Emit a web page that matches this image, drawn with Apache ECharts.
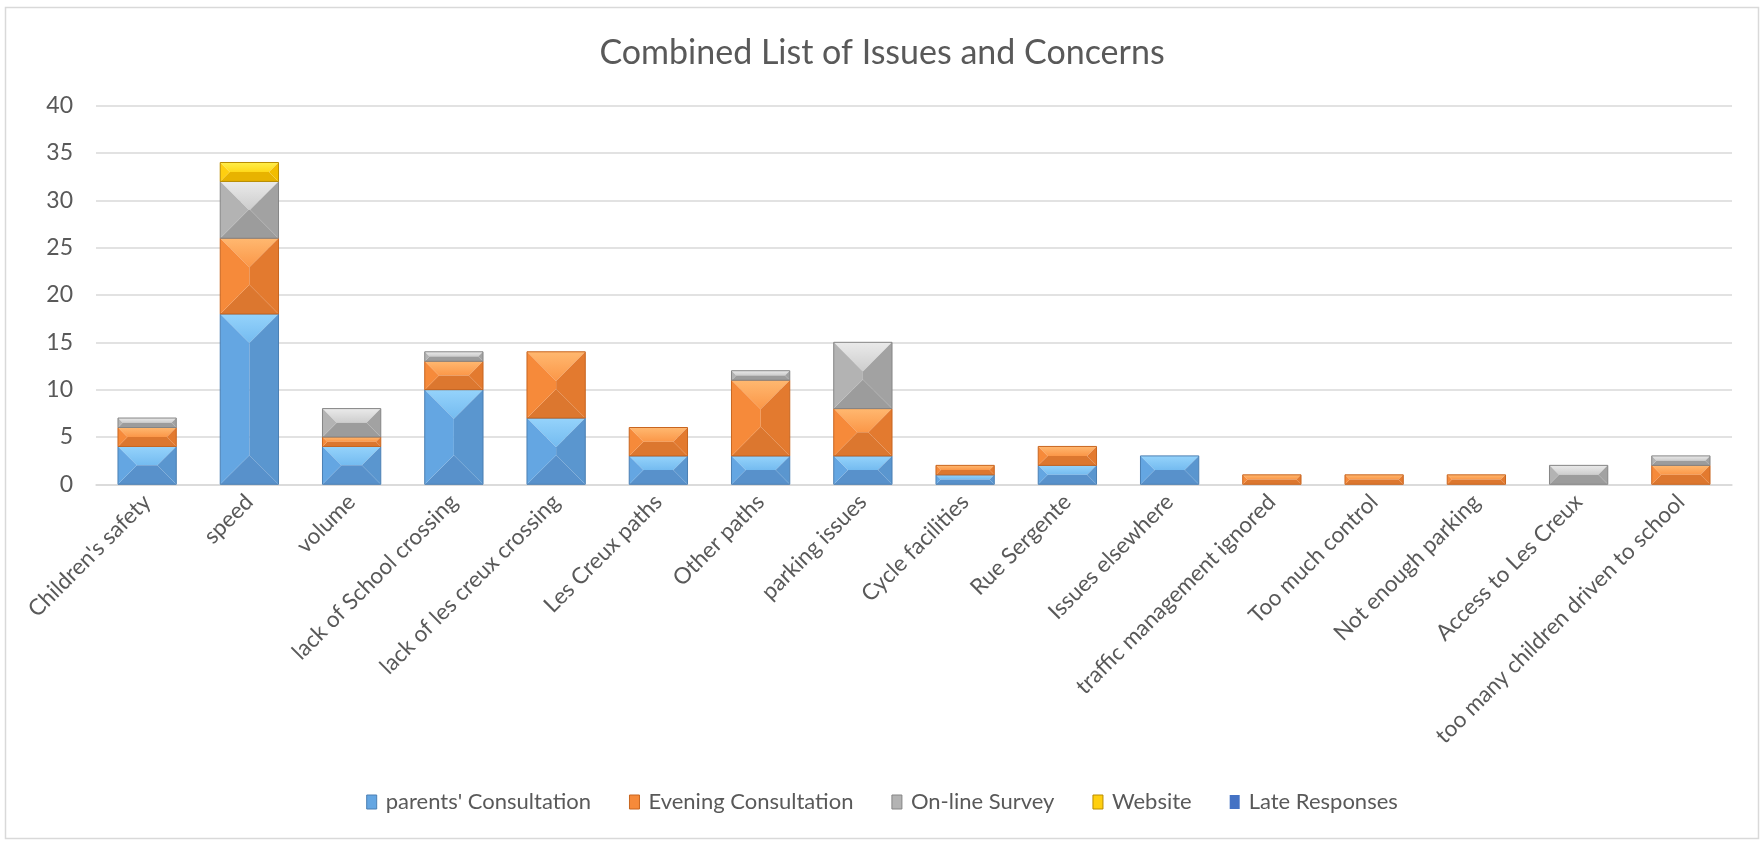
<!DOCTYPE html>
<html>
<head>
<meta charset="utf-8">
<title>Combined List of Issues and Concerns</title>
<script src="https://cdn.jsdelivr.net/npm/echarts@6/dist/echarts.min.js"></script>
<style>
  html, body { margin: 0; padding: 0; background: #ffffff; }
  #chart { width: 1764px; height: 841px; }
</style>
</head>
<body>
<div id="chart"></div>
<script>
// Issue categories along the x axis
const categories = [
  "Children's safety", "speed", "volume", "lack of School crossing",
  "lack of les creux crossing", "Les Creux paths", "Other paths", "parking issues",
  "Cycle facilities", "Rue Sergente", "Issues elsewhere", "traffic management ignored",
  "Too much control", "Not enough parking", "Access to Les Creux",
  "too many children driven to school"
];

// Responses per source (stacked bottom to top)
const parentsConsultation = [4, 18, 4, 10, 7, 3, 3, 3, 1, 2, 3, 0, 0, 0, 0, 0];
const eveningConsultation = [2, 8, 1, 3, 7, 3, 8, 5, 1, 2, 0, 1, 1, 1, 0, 2];
const onlineSurvey        = [1, 6, 3, 1, 0, 0, 1, 7, 0, 0, 0, 0, 0, 0, 2, 1];
const website             = [0, 2, 0, 0, 0, 0, 0, 0, 0, 0, 0, 0, 0, 0, 0, 0];
const lateResponses       = [0, 0, 0, 0, 0, 0, 0, 0, 0, 0, 0, 0, 0, 0, 0, 0];

const seriesNames = ["parents' Consultation", "Evening Consultation", "On-line Survey", "Website", "Late Responses"];
const seriesValues = [parentsConsultation, eveningConsultation, onlineSurvey, website, lateResponses];

// Value axis ticks
const yMin = 0, yMax = 40, yStep = 5;

// Bevel shading per source: top facet gradient, left, right, bottom, outline
const shades = [
  { base: '#5B9BD5', top0: '#95D3FB', top1: '#74BBF0', left: '#64A6E2', right: '#5A96CF', bottom: '#5891CB', edge: '#4A7FB3' },
  { base: '#ED7D31', top0: '#FFB870', top1: '#FB9748', left: '#F68A3A', right: '#E37A2F', bottom: '#DC772F', edge: '#C8651F' },
  { base: '#A5A5A5', top0: '#EAEAEA', top1: '#CDCDCD', left: '#B3B3B3', right: '#A2A2A2', bottom: '#9C9C9C', edge: '#858585' },
  { base: '#FFC000', top0: '#FFEE4A', top1: '#FFD91A', left: '#FFCF10', right: '#F2BD00', bottom: '#E8B300', edge: '#B98C00' },
  { base: '#4472C4', top0: '#4472C4', top1: '#4472C4', left: '#4472C4', right: '#4472C4', bottom: '#4472C4', edge: '#4472C4' }
];

const barRatio = 0.57;

// Build stacked [category, start, end] items for each source
function stackedItems(sIdx) {
  const items = [];
  for (let i = 0; i < categories.length; i++) {
    const v = seriesValues[sIdx][i];
    if (!v) continue;
    let base = 0;
    for (let k = 0; k < sIdx; k++) base += seriesValues[k][i];
    items.push([i, base, base + v]);
  }
  return items;
}

function makeRenderer(sIdx) {
  const c = shades[sIdx];
  return function (params, api) {
    const i = api.value(0);
    const p0 = api.coord([i, api.value(1)]);
    const p1 = api.coord([i, api.value(2)]);
    const bw = api.size([1, 0])[0] * barRatio;
    const x = p0[0] - bw / 2;
    const top = p1[1];
    const bottom = p0[1];
    const h = bottom - top;
    const d = Math.min(bw, h) / 2;
    const poly = (pts, fill) => ({ type: 'polygon', shape: { points: pts }, style: { fill: fill, stroke: null } });
    return {
      type: 'group',
      children: [
        poly([[x, top], [x + bw, top], [x + bw - d, top + d], [x + d, top + d]],
          new echarts.graphic.LinearGradient(0, 0, 0, 1, [{ offset: 0, color: c.top0 }, { offset: 1, color: c.top1 }])),
        poly([[x, bottom], [x + bw, bottom], [x + bw - d, bottom - d], [x + d, bottom - d]], c.bottom),
        poly([[x, top], [x + d, top + d], [x + d, bottom - d], [x, bottom]], c.left),
        poly([[x + bw, top], [x + bw - d, top + d], [x + bw - d, bottom - d], [x + bw, bottom]], c.right),
        { type: 'rect', shape: { x: x, y: top, width: bw, height: h },
          style: { fill: null, stroke: c.edge, lineWidth: 1 } }
      ]
    };
  };
}

const labelColor = '#595959';
const fontFamily = 'Lato, "Open Sans", sans-serif';

const chart = echarts.init(document.getElementById('chart'), null, { renderer: 'canvas' });

chart.setOption({
  backgroundColor: '#ffffff',
  animation: false,
  title: {
    text: 'Combined List of Issues and Concerns',
    left: 'center',
    top: 31,
    textStyle: { color: labelColor, fontSize: 34, fontWeight: 'normal', fontFamily: fontFamily }
  },
  graphic: [{
    type: 'rect',
    shape: { x: 5.5, y: 7.5, width: 1753, height: 831 },
    style: { fill: null, stroke: '#D9D9D9', lineWidth: 1.5 },
    silent: true
  }],
  legend: {
    bottom: 23,
    left: 'center',
    itemWidth: 10,
    itemHeight: 14,
    itemGap: 38,
    icon: 'rect',
    textStyle: { color: labelColor, fontSize: 22, fontFamily: fontFamily, padding: [0, 0, 0, 4] },
    data: seriesNames.map((n, k) => ({
      name: n,
      itemStyle: { color: shades[k].left, borderColor: shades[k].edge, borderWidth: k === 4 ? 0 : 1 }
    }))
  },
  grid: { left: 96, right: 32, top: 105.7, bottom: 356.7, containLabel: false },
  xAxis: {
    type: 'category',
    data: categories,
    boundaryGap: true,
    axisLine: { lineStyle: { color: '#D9D9D9', width: 1.5 } },
    axisTick: { show: false },
    axisLabel: {
      interval: 0, rotate: 45, margin: 14,
      color: labelColor, fontSize: 22.5, fontFamily: fontFamily
    }
  },
  yAxis: {
    type: 'value',
    min: yMin, max: yMax, interval: yStep,
    axisLine: { show: false },
    axisTick: { show: false },
    splitLine: { lineStyle: { color: '#D9D9D9', width: 1.5 } },
    axisLabel: { color: labelColor, fontSize: 23, fontFamily: fontFamily, margin: 23 }
  },
  series: seriesNames.map((n, k) => ({
    type: 'custom',
    name: n,
    coordinateSystem: 'cartesian2d',
    itemStyle: { color: shades[k].base },
    encode: { x: 0, y: [1, 2] },
    renderItem: makeRenderer(k),
    data: stackedItems(k)
  }))
});
</script>
</body>
</html>
